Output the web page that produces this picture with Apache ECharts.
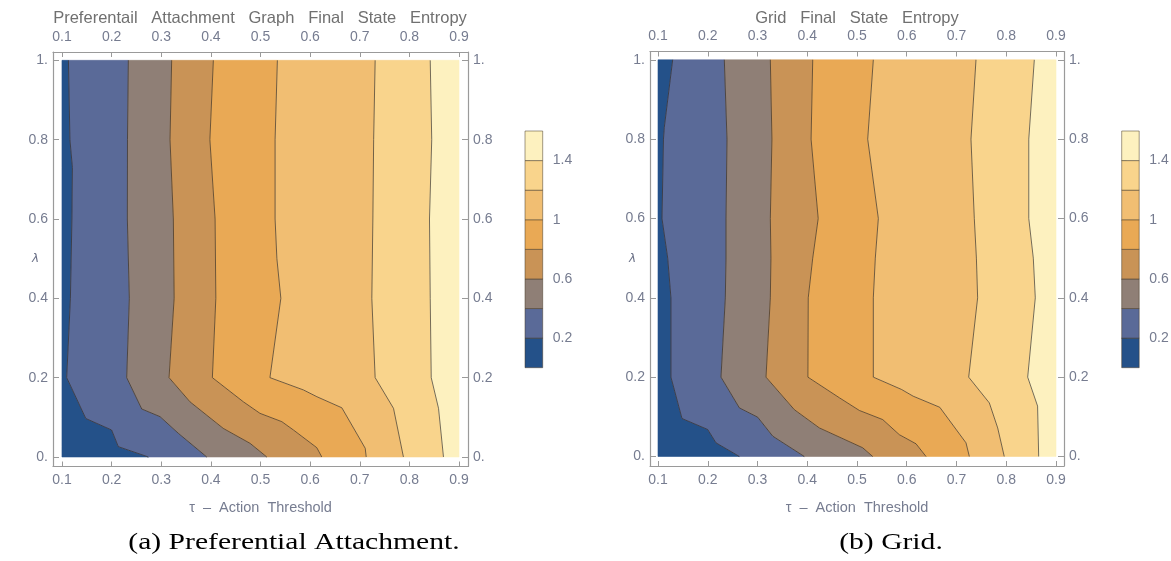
<!DOCTYPE html>
<html><head><meta charset="utf-8">
<script src="https://cdn.jsdelivr.net/npm/echarts@6/dist/echarts.min.js"></script>
<style>html,body{margin:0;padding:0;background:#fff}#c{width:1171px;height:561px}</style>
</head><body><div id="c"></div><script>
// ---- tick labels / levels ----
const xTicks = [0.1,0.2,0.3,0.4,0.5,0.6,0.7,0.8,0.9];
const yTicks = [0,0.2,0.4,0.6,0.8,1];
const legendLevels = [0,0.2,0.4,0.6,0.8,1.0,1.2,1.4,1.6];
const legendTicks = [0.2,0.6,1,1.4];
const bandColors = ['#245189','#5a6a98','#8f7f76','#c99356','#e9a955','#f1be72','#f9d48c','#fdf1bf'];

// ---- contour lines, Preferential Attachment  [tau, lambda] from lambda=1 down to 0 ----
const paC02 = [[0.113,1],[0.116,0.8],[0.121,0.73],[0.12,0.6],[0.117,0.4],[0.1095,0.2],[0.123,0.164],[0.148,0.097],[0.200,0.068],[0.2135,0.026],[0.274,0]];
const paC04 = [[0.2337,1],[0.232,0.8],[0.2317,0.6],[0.2357,0.4],[0.2304,0.2],[0.2607,0.121],[0.2976,0.1016],[0.3345,0.0596],[0.3917,0]];
const paC06 = [[0.321,1],[0.3177,0.8],[0.3244,0.6],[0.326,0.4],[0.3157,0.2],[0.358,0.139],[0.425,0.072],[0.479,0.0344],[0.5127,0]];
const paC08 = [[0.405,1],[0.398,0.8],[0.4085,0.6],[0.41,0.4],[0.403,0.2],[0.4656,0.139],[0.499,0.11],[0.543,0.089],[0.5664,0.068],[0.6134,0.0235],[0.6235,0]];
const paC10 = [[0.534,1],[0.5294,0.8],[0.5294,0.6],[0.533,0.5],[0.541,0.4],[0.519,0.2],[0.5865,0.169],[0.6135,0.152],[0.6639,0.124],[0.711,0.022],[0.713,0]];
const paC12 = [[0.731,1],[0.728,0.8],[0.7264,0.6],[0.7243,0.4],[0.731,0.2],[0.768,0.1226],[0.788,0]];
const paC14 = [[0.842,1],[0.845,0.8],[0.8405,0.6],[0.842,0.4],[0.844,0.2],[0.8587,0.1226],[0.8687,0]];

// ---- contour lines, Grid ----
const grC02 = [[0.1295,1],[0.1127,0.83],[0.111,0.8],[0.108,0.6],[0.1195,0.5],[0.126,0.4],[0.126,0.2],[0.1482,0.0957],[0.1999,0.068],[0.2166,0.0344],[0.2635,0]];
const grC04 = [[0.2333,1],[0.2387,0.8],[0.2367,0.6],[0.2367,0.5],[0.2353,0.4],[0.2266,0.2],[0.2635,0.1226],[0.3004,0.099],[0.3306,0.0512],[0.394,0]];
const grC06 = [[0.3258,1],[0.329,0.8],[0.3258,0.6],[0.327,0.5],[0.3258,0.4],[0.3171,0.2],[0.374,0.118],[0.4243,0.072],[0.5114,0.022],[0.5315,0]];
const grC08 = [[0.411,1],[0.4077,0.8],[0.422,0.6],[0.411,0.5],[0.402,0.4],[0.4013,0.2],[0.4646,0.148],[0.5048,0.116],[0.5517,0.093],[0.585,0.055],[0.6186,0.032],[0.6387,0]];
const grC10 = [[0.5328,1],[0.5215,0.8],[0.5429,0.6],[0.5368,0.5],[0.5328,0.4],[0.5328,0.2],[0.5894,0.169],[0.6129,0.152],[0.6664,0.124],[0.7191,0.0344],[0.7258,0]];
const grC12 = [[0.7392,1],[0.7291,0.8],[0.7358,0.6],[0.74,0.5],[0.7425,0.4],[0.7245,0.2],[0.766,0.135],[0.7828,0.072],[0.796,0]];
const grC14 = [[0.8564,1],[0.8453,0.8],[0.8453,0.6],[0.8544,0.5],[0.8584,0.4],[0.8431,0.2],[0.863,0.127],[0.8652,0]];

const paContours = [paC02,paC04,paC06,paC08,paC10,paC12,paC14];
const grContours = [grC02,grC04,grC06,grC08,grC10,grC12,grC14];
const xMinEdge = [[0.1,1],[0.1,0]];
const xMaxEdge = [[0.9,1],[0.9,0]];

const FONT = 'Liberation Sans';
const tickColor = '#767c90';
const frameColor = '#9a9a9a';

function bandPolygon(contours, k){
  const left = k === 0 ? xMinEdge : contours[k-1];
  const right = k === contours.length ? xMaxEdge : contours[k];
  return left.concat(right.slice().reverse());
}

function bandSeries(contours, idx){
  return {
    type:'custom', xAxisIndex: idx*2, yAxisIndex: idx*2, silent:true, clip:false, z:1,
    data: bandColors.map((c,k)=>[0.5,0.5,k]),
    renderItem: function(params, api){
      const k = api.value(2);
      const pts = bandPolygon(contours, k).map(p => api.coord(p));
      return {type:'polygon', shape:{points:pts}, style:{fill:bandColors[k], stroke:bandColors[k], lineWidth:0.6}};
    }
  };
}
function lineSeries(contours, idx){
  return contours.map(c => ({
    type:'line', xAxisIndex: idx*2, yAxisIndex: idx*2, data:c, symbol:'none', silent:true, z:3,
    lineStyle:{color:'rgba(45,40,35,0.66)', width:1}
  }));
}
function legendSeries(idx){
  return {
    type:'custom', xAxisIndex: 4+idx, yAxisIndex: 4+idx, silent:true, clip:false, z:2,
    data: bandColors.map((c,k)=>[0.5,(legendLevels[k]+legendLevels[k+1])/2,k]),
    renderItem: function(params, api){
      const k = api.value(2);
      const p0 = api.coord([0, legendLevels[k+1]]);
      const p1 = api.coord([1, legendLevels[k]]);
      return {type:'rect', shape:{x:p0[0], y:p0[1], width:p1[0]-p0[0], height:p1[1]-p0[1]},
        style:{fill:bandColors[k], stroke:'rgba(70,55,35,0.5)', lineWidth:1}};
    }
  };
}

const fmtX = v => v.toFixed(1);
const fmtY = v => (v === 0 ? '0.' : v === 1 ? '1.' : v.toFixed(1));

function xAx(g, pos, min, max){
  return {type:'value', gridIndex:g, position:pos, min:min, max:max,
    axisLine:{show:true, onZero:false, lineStyle:{color:frameColor, width:1.2}},
    axisTick:{show:true, inside:true, length:5, customValues:xTicks, lineStyle:{color:frameColor}},
    axisLabel:{show:true, customValues:xTicks, formatter:fmtX, color:tickColor, fontFamily:FONT, fontSize:14, margin:pos==='top'?8:7},
    splitLine:{show:false},
    name: pos==='bottom' ? 'τ  –  Action  Threshold' : '',
    nameLocation:'middle', nameGap:34, nameMoveOverlap:false,
    nameTextStyle:{color:tickColor, fontFamily:FONT, fontSize:14.5}
  };
}
function yAx(g, pos){
  return {type:'value', gridIndex:g, position:pos, min:-0.024, max:1.021,
    axisLine:{show:true, onZero:false, lineStyle:{color:frameColor, width:1.2}},
    axisTick:{show:true, inside:true, length:6, customValues:yTicks, lineStyle:{color:frameColor}},
    axisLabel:{show:true, customValues:yTicks, formatter:fmtY, color:tickColor, fontFamily:FONT, fontSize:14, margin:5},
    splitLine:{show:false},
    name: pos==='left' ? 'λ' : '',
    nameLocation:'middle', nameGap:14, nameRotate:0, nameMoveOverlap:false,
    nameTextStyle:{color:'#6c7288', fontFamily:'DejaVu Sans', fontSize:12, fontStyle:'italic'}
  };
}
function legX(g){ return {type:'value', gridIndex:g, min:0, max:1, show:false}; }
function legY(g){
  return {type:'value', gridIndex:g, position:'right', min:0, max:1.6,
    axisLine:{show:false},
    axisTick:{show:true, inside:false, length:5, customValues:legendTicks, lineStyle:{color:frameColor}},
    axisLabel:{show:true, customValues:legendTicks, color:tickColor, fontFamily:FONT, fontSize:14, margin:10},
    splitLine:{show:false}
  };
}

const chart = echarts.init(document.getElementById('c'), null, {renderer:'canvas'});
chart.setOption({
  animation:false,
  backgroundColor:'#ffffff',
  grid:[
    {left:53, top:52, width:415, height:414.5, outerBoundsMode:'none', containLabel:false},
    {left:650, top:51.5, width:414, height:414.5, outerBoundsMode:'none', containLabel:false},
    {left:525, top:131, width:17.7, height:236.7, outerBoundsMode:'none', containLabel:false},
    {left:1121.7, top:131, width:17.5, height:236.7, outerBoundsMode:'none', containLabel:false}
  ],
  xAxis:[
    xAx(0,'bottom',0.0819,0.9181), xAx(0,'top',0.0819,0.9181),
    xAx(1,'bottom',0.0839,0.9161), xAx(1,'top',0.0839,0.9161),
    legX(2), legX(3)
  ],
  yAxis:[
    yAx(0,'left'), yAx(0,'right'),
    yAx(1,'left'), yAx(1,'right'),
    legY(2), legY(3)
  ],
  graphic:[
    {type:'text', x:260, y:18, style:{text:'Preferentail   Attachment   Graph   Final   State   Entropy', align:'center', verticalAlign:'middle', font:'16.5px "Liberation Sans"', fill:'#707070'}},
    {type:'text', x:857, y:18, style:{text:'Grid   Final   State   Entropy', align:'center', verticalAlign:'middle', font:'16.5px "Liberation Sans"', fill:'#707070'}},
    {type:'text', x:294, y:543, scaleX:1.26, style:{text:'(a) Preferential Attachment.', align:'center', verticalAlign:'middle', font:'23.5px "Liberation Serif"', fill:'#000'}},
    {type:'text', x:891, y:543, scaleX:1.26, style:{text:'(b) Grid.', align:'center', verticalAlign:'middle', font:'23.5px "Liberation Serif"', fill:'#000'}}
  ],
  series:[
    bandSeries(paContours,0),
    bandSeries(grContours,1),
    ...lineSeries(paContours,0),
    ...lineSeries(grContours,1),
    legendSeries(0),
    legendSeries(1)
  ]
});
</script></body></html>
